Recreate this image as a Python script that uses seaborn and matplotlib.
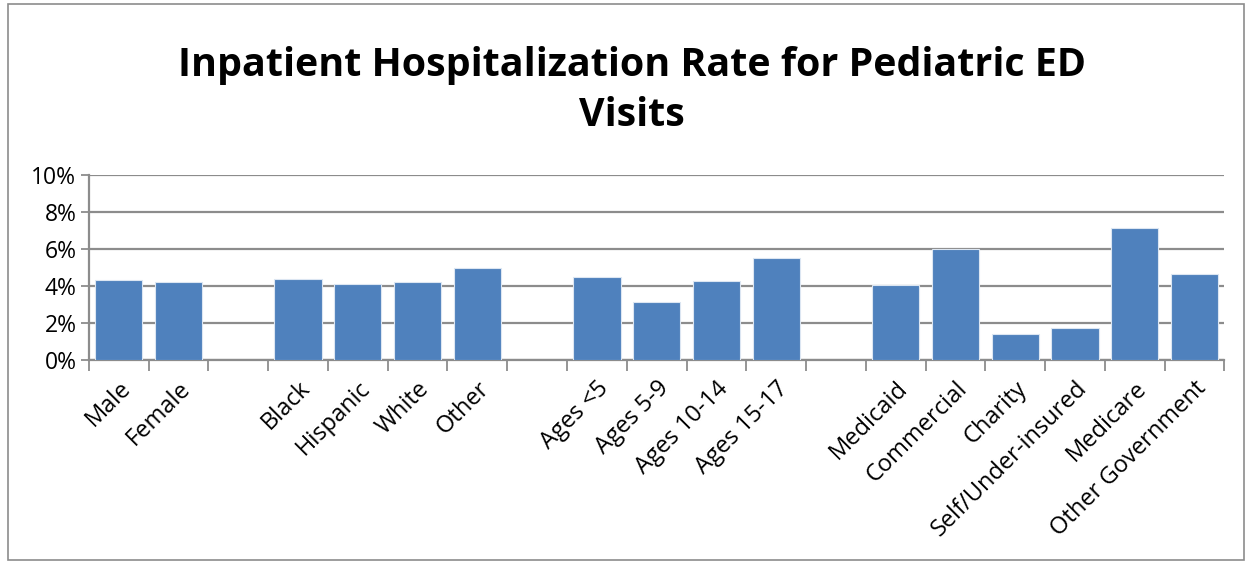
import matplotlib
matplotlib.use("Agg")
import matplotlib.pyplot as plt
import seaborn as sns
import pandas as pd
from matplotlib.ticker import FixedLocator, PercentFormatter
from matplotlib.patches import Rectangle

categories = ["Male", "Female",
              "Black", "Hispanic", "White", "Other",
              "Ages <5", "Ages 5-9", "Ages 10-14", "Ages 15-17",
              "Medicaid", "Commercial", "Charity", "Self/Under-insured", "Medicare", "Other Government"]
rates = [4.33, 4.19,
         4.39, 4.13, 4.19, 4.98,
         4.48, 3.12, 4.26, 5.54,
         4.04, 5.99, 1.39, 1.75, 7.13, 4.64]
order = ["Male", "Female", "_g1",
         "Black", "Hispanic", "White", "Other", "_g2",
         "Ages <5", "Ages 5-9", "Ages 10-14", "Ages 15-17", "_g3",
         "Medicaid", "Commercial", "Charity", "Self/Under-insured", "Medicare", "Other Government"]
yticks = [0, 2, 4, 6, 8, 10]

df = pd.DataFrame({"cat": categories, "rate": rates})

sns.set_theme(style="white")
plt.rcParams["font.family"] = ["Open Sans", "DejaVu Sans"]
plt.rcParams["text.color"] = "black"
plt.rcParams["xtick.labelcolor"] = "black"
plt.rcParams["ytick.labelcolor"] = "black"

fig = plt.figure(figsize=(12.52, 5.65), dpi=100)
ax = fig.add_axes([0.071, 0.363, 0.907, 0.327])

sns.barplot(data=df, x="cat", y="rate", order=order, color="#4F81BD",
            saturation=1, width=0.79, edgecolor="#DCE6F2", linewidth=0.8, ax=ax, zorder=3)

ax.set_ylim(0, 10)
ax.set_xlim(-0.5, len(order) - 0.5)
ax.set_yticks(yticks)
ax.yaxis.set_major_formatter(PercentFormatter(decimals=0))
ax.grid(axis="y", color="#8C8C8C", linewidth=1.6, zorder=0)
ax.set_axisbelow(True)

labels = [("" if c.startswith("_g") else c) for c in order]
ax.set_xticks(range(len(order)))
ax.set_xticklabels(labels, rotation=45, ha="right", rotation_mode="anchor", fontsize=17)
ax.tick_params(axis="x", which="major", length=0, pad=12)
ax.xaxis.set_minor_locator(FixedLocator([i - 0.5 for i in range(len(order) + 1)]))
ax.tick_params(axis="x", which="minor", length=8, width=1.3, color="#8C8C8C", direction="out", bottom=True)
ax.tick_params(axis="y", labelsize=16.5, length=6, width=1.3, color="#8C8C8C", direction="out", left=True, pad=3)
for s in ["top", "right"]:
    ax.spines[s].set_visible(False)
for s in ["left", "bottom"]:
    ax.spines[s].set_color("#8C8C8C")
    ax.spines[s].set_linewidth(1.6)
ax.set_xlabel("")
ax.set_ylabel("")

fig.text(0.505, 0.84, "Inpatient Hospitalization Rate for Pediatric ED\nVisits",
         ha="center", va="center", fontsize=28.4, fontweight="bold", linespacing=1.38, color="black")

fig.patches.append(Rectangle((0.006, 0.008), 0.988, 0.985, transform=fig.transFigure,
                             fill=False, edgecolor="#8C8C8C", linewidth=1.2))

fig.savefig("out.png", dpi=100)
